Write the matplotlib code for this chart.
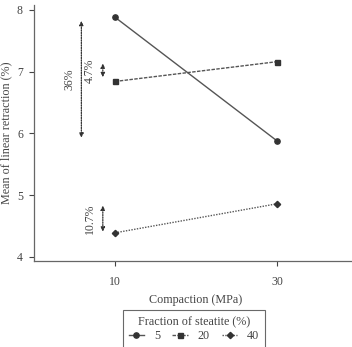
import matplotlib
matplotlib.use("Agg")
import matplotlib.pyplot as plt

plt.rcParams["font.family"] = ["Liberation Serif", "DejaVu Serif"]

# data
compaction = [10, 30]
fractions = ["5", "20", "40"]
retraction_5 = [7.88, 5.88]
retraction_20 = [6.84, 7.16]
retraction_40 = [4.39, 4.86]

# variation brackets: (x, y_low, y_high, label x, label)
brackets = [
    (5.85, 5.93, 7.82, 4.4, "36%"),
    (8.5, 6.91, 7.13, 6.9, "4.7%"),
    (8.5, 4.41, 4.83, 6.9, "10.7%"),
]

ink = "#333333"
line_col = "#555555"
text_col = "#444444"

fig = plt.figure(figsize=(3.52, 3.47), dpi=100)
ax = fig.add_axes((0.0966, 0.248, 0.92, 0.738))

ax.plot(compaction, retraction_5, color=line_col, linestyle="-", linewidth=1.0,
        marker="o", markersize=3.8, markerfacecolor=ink, markeredgecolor=ink, label=fractions[0])
ax.plot(compaction, retraction_20, color=line_col, linestyle=(0, (2.5, 1)), linewidth=1.0,
        marker="s", markersize=3.6, markerfacecolor=ink, markeredgecolor=ink, label=fractions[1])
ax.plot(compaction, retraction_40, color=line_col, linestyle=(0, (1, 1)), linewidth=1.0,
        marker="D", markersize=3.2, markerfacecolor=ink, markeredgecolor=ink, label=fractions[2])

for x, lo, hi, tx, lab in brackets:
    ax.annotate("", xy=(x, lo), xytext=(x, hi),
                arrowprops=dict(arrowstyle="<|-|>", color=ink, linestyle=(0, (1, 1)),
                                linewidth=0.9, mutation_scale=6, shrinkA=0, shrinkB=0))
    ax.text(tx, (lo + hi) / 2, lab, rotation=90, ha="center", va="center",
            fontsize=8.5, color=text_col)

ax.set_xlim(0, 40)
ax.set_ylim(3.935, 8.08)
ax.set_xticks(compaction)
ax.set_yticks([4, 5, 6, 7, 8])
ax.tick_params(colors=text_col, labelsize=8.5, length=3.5, width=0.8, direction="out")
ax.tick_params(axis="x", pad=7)
ax.tick_params(axis="y", pad=4.5)
ax.spines["top"].set_visible(False)
ax.spines["right"].set_visible(False)
for s in ["left", "bottom"]:
    ax.spines[s].set_color("#666666")
    ax.spines[s].set_linewidth(0.9)

ax.set_xlabel("Compaction (MPa)", fontsize=8.7, color=text_col, labelpad=5)
ax.set_ylabel("Mean of linear retraction (%)", fontsize=8.7, color=text_col, labelpad=3)

leg = ax.legend(title="Fraction of steatite (%)", ncol=3, loc="upper center",
                bbox_to_anchor=(0.494, -0.191), borderaxespad=0,
                fontsize=8.7, title_fontsize=8.7,
                frameon=True, fancybox=False, edgecolor="#444444",
                handlelength=1.3, columnspacing=1.0, handletextpad=0.8,
                borderpad=0.5, labelspacing=0.2, markerscale=1.0)
leg.get_frame().set_linewidth(0.8)
plt.setp(leg.get_texts(), color=text_col)
leg.get_title().set_color(text_col)

fig.savefig("out.png", dpi=100)
